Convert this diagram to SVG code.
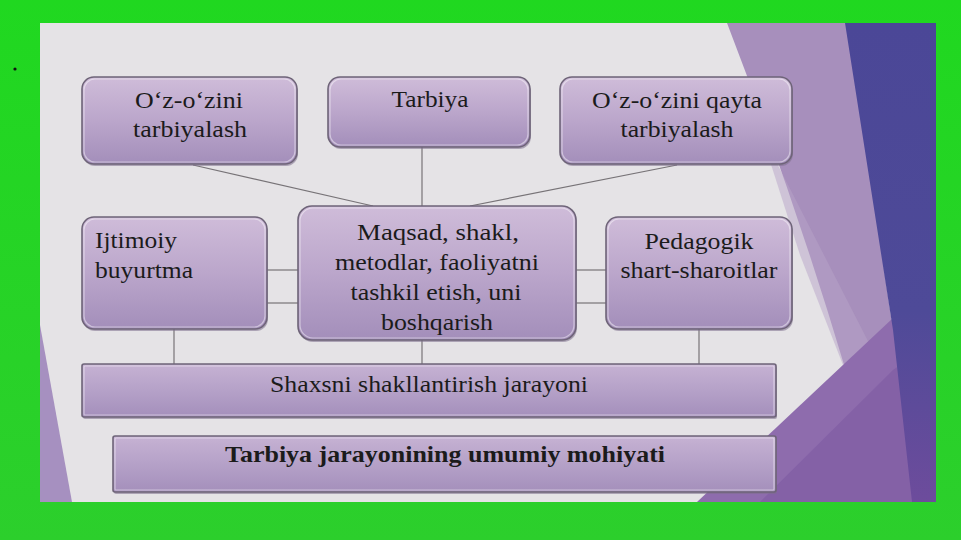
<svg xmlns="http://www.w3.org/2000/svg" width="961" height="540" viewBox="0 0 961 540">
<defs>
<linearGradient id="boxg" x1="0" y1="0" x2="0" y2="1">
<stop offset="0" stop-color="#cfbcd9"/>
<stop offset="0.5" stop-color="#bba6cb"/>
<stop offset="1" stop-color="#a38eba"/>
</linearGradient>
<linearGradient id="barg" x1="0" y1="0" x2="0" y2="1">
<stop offset="0" stop-color="#c6b2d3"/>
<stop offset="0.5" stop-color="#b5a1c8"/>
<stop offset="1" stop-color="#a48fbb"/>
</linearGradient>
<linearGradient id="bandg" x1="0" y1="0" x2="0" y2="1">
<stop offset="0" stop-color="#4b4797"/>
<stop offset="0.6" stop-color="#4e4a98"/>
<stop offset="1" stop-color="#6d4c9c"/>
</linearGradient>
<linearGradient id="greeng" x1="0" y1="0" x2="0" y2="1">
<stop offset="0" stop-color="#20d820"/>
<stop offset="1" stop-color="#2ccf2c"/>
</linearGradient>
<style>
.box{fill:url(#boxg);stroke:#6e6478;stroke-width:1.6}
.bar{fill:url(#barg);stroke:#6e6478;stroke-width:1.6}
.sh{fill:#7d6f8c;opacity:0.55}
.hl{fill:none;stroke:#ffffff;stroke-opacity:0.45;stroke-width:1.2}
.t{font-family:"Liberation Serif","Times New Roman",serif;font-size:23px;fill:#1b1b1b}
.c{text-anchor:middle}
.b{font-weight:bold}
#connectors line{stroke:#777377;stroke-width:1.2}
</style>
</defs>

<!-- frame and slide -->
<rect x="0" y="0" width="961" height="540" fill="url(#greeng)"/>
<rect x="40" y="23" width="896" height="479" fill="#e5e3e6"/>

<!-- background decorations -->
<path d="M727,23 L848,23 L893,330 L845,368 Q795,200 727,23 Z" fill="#a78fbc"/>
<path d="M760,130 L800,255 L843,365 L870,345 Z" fill="#b7a3c7" opacity="0.5"/>
<path d="M697,502 L893,318 L936,300 L936,502 Z" fill="#8e6cad"/>
<path d="M760,502 L893,370 L936,340 L936,502 Z" fill="#7d5aa2" opacity="0.6"/>
<path d="M845,23 L936,23 L936,502 L912,502 L893,330 Z" fill="url(#bandg)"/>
<path d="M40,325 L72,502 L40,502 Z" fill="#a690c0"/>
<circle cx="15" cy="69" r="1.6" fill="#111"/>

<!-- connectors -->
<g id="connectors">
<line x1="422" y1="147" x2="422" y2="206"/>
<line x1="193" y1="165" x2="373" y2="206"/>
<line x1="677" y1="165" x2="470" y2="206"/>
<line x1="267" y1="270" x2="298" y2="270"/>
<line x1="267" y1="303" x2="298" y2="303"/>
<line x1="576" y1="270" x2="606" y2="270"/>
<line x1="576" y1="303" x2="606" y2="303"/>
<line x1="174" y1="329" x2="174" y2="364"/>
<line x1="422" y1="340" x2="422" y2="364"/>
<line x1="699" y1="329" x2="699" y2="364"/>
</g>

<g id="n-ozozini">
<rect class="sh" x="83" y="80" width="215" height="86" rx="12"/>
<rect class="box" x="82" y="77" width="215" height="87" rx="12"/>
<rect class="hl" x="84" y="79" width="211" height="83" rx="11"/>
<text class="t c" x="189" y="108" textLength="108" lengthAdjust="spacingAndGlyphs">O‘z-o‘zini</text>
<text class="t c" x="190" y="137" textLength="114" lengthAdjust="spacingAndGlyphs">tarbiyalash</text>
</g>

<g id="n-tarbiya">
<rect class="sh" x="329" y="80" width="202" height="69" rx="12"/>
<rect class="box" x="328" y="77" width="202" height="70" rx="12"/>
<rect class="hl" x="330" y="79" width="198" height="66" rx="11"/>
<text class="t c" x="430" y="107" textLength="77" lengthAdjust="spacingAndGlyphs">Tarbiya</text>
</g>

<g id="n-qayta">
<rect class="sh" x="561" y="80" width="232" height="86" rx="12"/>
<rect class="box" x="560" y="77" width="232" height="87" rx="12"/>
<rect class="hl" x="562" y="79" width="228" height="83" rx="11"/>
<text class="t c" x="677" y="108" textLength="170" lengthAdjust="spacingAndGlyphs">O‘z-o‘zini qayta</text>
<text class="t c" x="677" y="137" textLength="113" lengthAdjust="spacingAndGlyphs">tarbiyalash</text>
</g>

<g id="n-ijtimoiy">
<rect class="sh" x="83" y="220" width="185" height="111" rx="12"/>
<rect class="box" x="82" y="217" width="185" height="112" rx="12"/>
<rect class="hl" x="84" y="219" width="181" height="108" rx="11"/>
<text class="t" x="95" y="248" textLength="82" lengthAdjust="spacingAndGlyphs">Ijtimoiy</text>
<text class="t" x="95" y="278" textLength="98" lengthAdjust="spacingAndGlyphs">buyurtma</text>
</g>

<g id="n-maqsad">
<rect class="sh" x="299" y="209" width="278" height="133" rx="14"/>
<rect class="box" x="298" y="206" width="278" height="134" rx="14"/>
<rect class="hl" x="300" y="208" width="274" height="130" rx="13"/>
<text class="t c" x="438" y="240" textLength="162" lengthAdjust="spacingAndGlyphs">Maqsad, shakl,</text>
<text class="t c" x="437" y="270" textLength="204" lengthAdjust="spacingAndGlyphs">metodlar, faoliyatni</text>
<text class="t c" x="436" y="300" textLength="171" lengthAdjust="spacingAndGlyphs">tashkil etish, uni</text>
<text class="t c" x="437" y="330" textLength="112" lengthAdjust="spacingAndGlyphs">boshqarish</text>
</g>

<g id="n-pedagogik">
<rect class="sh" x="607" y="220" width="186" height="111" rx="12"/>
<rect class="box" x="606" y="217" width="186" height="112" rx="12"/>
<rect class="hl" x="608" y="219" width="182" height="108" rx="11"/>
<text class="t c" x="699" y="249" textLength="109" lengthAdjust="spacingAndGlyphs">Pedagogik</text>
<text class="t c" x="699" y="278" textLength="157" lengthAdjust="spacingAndGlyphs">shart-sharoitlar</text>
</g>

<g id="n-shaxsni">
<rect class="sh" x="83" y="366" width="694" height="53" rx="2"/>
<rect class="bar" x="82" y="364" width="694" height="53" rx="2"/>
<rect class="hl" x="84" y="366" width="690" height="49" rx="1"/>
<text class="t c" x="429" y="392" textLength="318" lengthAdjust="spacingAndGlyphs">Shaxsni shakllantirish jarayoni</text>
</g>

<g id="n-mohiyat">
<rect class="sh" x="114" y="438" width="663" height="56" rx="2"/>
<rect class="bar" x="113" y="436" width="663" height="56" rx="2"/>
<rect class="hl" x="115" y="438" width="659" height="52" rx="1"/>
<text class="t c b" x="445" y="462" textLength="440" lengthAdjust="spacingAndGlyphs">Tarbiya jarayonining umumiy mohiyati</text>
</g>
</svg>
